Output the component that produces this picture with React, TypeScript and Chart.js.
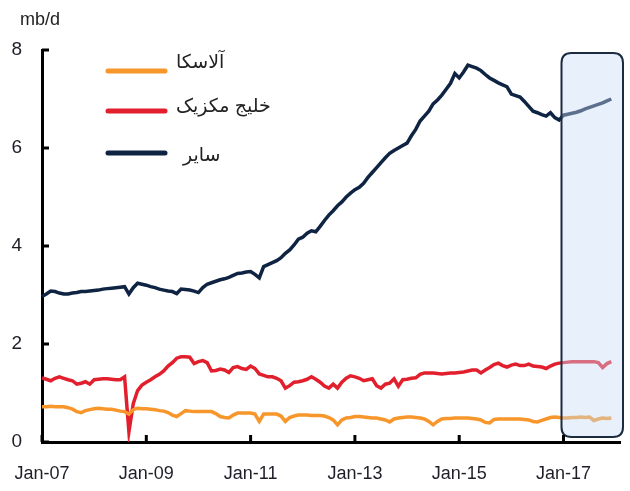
import React, { useEffect, useRef } from "react";
import { Chart, registerables } from "chart.js";

Chart.register(...registerables);

// Monthly data, Jan 2007 – Dec 2017 (mb/d)
const alaska2007 = [0.72, 0.72, 0.73, 0.72, 0.72, 0.72, 0.70, 0.67, 0.62, 0.60, 0.64, 0.66];
const alaska2008 = [0.68, 0.69, 0.68, 0.67, 0.67, 0.65, 0.63, 0.62, 0.57, 0.66, 0.69, 0.68];
const alaska2009 = [0.68, 0.67, 0.66, 0.64, 0.63, 0.60, 0.55, 0.52, 0.58, 0.64, 0.63, 0.62];
const alaska2010 = [0.62, 0.62, 0.62, 0.62, 0.58, 0.52, 0.50, 0.49, 0.55, 0.59, 0.59, 0.59];
const alaska2011 = [0.59, 0.57, 0.42, 0.57, 0.57, 0.57, 0.57, 0.53, 0.42, 0.50, 0.53, 0.55];
const alaska2012 = [0.55, 0.55, 0.54, 0.54, 0.54, 0.53, 0.50, 0.45, 0.35, 0.45, 0.49, 0.50];
const alaska2013 = [0.52, 0.52, 0.51, 0.50, 0.49, 0.49, 0.47, 0.45, 0.41, 0.47, 0.49, 0.50];
const alaska2014 = [0.51, 0.51, 0.50, 0.49, 0.47, 0.42, 0.35, 0.42, 0.47, 0.48, 0.48, 0.49];
const alaska2015 = [0.49, 0.49, 0.49, 0.48, 0.47, 0.45, 0.40, 0.39, 0.46, 0.47, 0.47, 0.47];
const alaska2016 = [0.47, 0.47, 0.47, 0.46, 0.45, 0.42, 0.41, 0.44, 0.47, 0.50, 0.51, 0.50];
const alaska2017 = [0.49, 0.49, 0.50, 0.50, 0.51, 0.50, 0.51, 0.44, 0.47, 0.49, 0.48, 0.49];

const gulf2007 = [1.31, 1.28, 1.25, 1.30, 1.33, 1.30, 1.27, 1.25, 1.18, 1.20, 1.23, 1.18];
const gulf2008 = [1.27, 1.28, 1.29, 1.29, 1.28, 1.27, 1.27, 1.33, 0.21, 0.78, 1.05, 1.16];
const gulf2009 = [1.22, 1.27, 1.33, 1.38, 1.45, 1.55, 1.62, 1.71, 1.74, 1.74, 1.73, 1.60];
const gulf2010 = [1.64, 1.66, 1.62, 1.45, 1.46, 1.49, 1.47, 1.42, 1.52, 1.54, 1.50, 1.48];
const gulf2011 = [1.55, 1.50, 1.39, 1.36, 1.33, 1.33, 1.30, 1.25, 1.10, 1.15, 1.22, 1.23];
const gulf2012 = [1.25, 1.28, 1.33, 1.28, 1.22, 1.14, 1.10, 1.18, 1.10, 1.22, 1.30, 1.35];
const gulf2013 = [1.33, 1.30, 1.25, 1.27, 1.29, 1.15, 1.10, 1.18, 1.20, 1.29, 1.14, 1.27];
const gulf2014 = [1.28, 1.30, 1.31, 1.38, 1.41, 1.41, 1.41, 1.40, 1.39, 1.40, 1.41, 1.41];
const gulf2015 = [1.42, 1.43, 1.45, 1.47, 1.47, 1.41, 1.47, 1.52, 1.58, 1.61, 1.56, 1.53];
const gulf2016 = [1.57, 1.59, 1.56, 1.56, 1.59, 1.55, 1.54, 1.53, 1.50, 1.55, 1.59, 1.61];
const gulf2017 = [1.62, 1.63, 1.64, 1.64, 1.64, 1.64, 1.64, 1.64, 1.62, 1.52, 1.60, 1.64];

const other2007 = [2.97, 3.02, 3.08, 3.07, 3.04, 3.02, 3.02, 3.04, 3.05, 3.07, 3.07, 3.08];
const other2008 = [3.09, 3.10, 3.12, 3.13, 3.14, 3.15, 3.16, 3.17, 3.02, 3.15, 3.24, 3.22];
const other2009 = [3.20, 3.17, 3.15, 3.12, 3.10, 3.08, 3.07, 3.03, 3.12, 3.11, 3.10, 3.08];
const other2010 = [3.05, 3.15, 3.22, 3.25, 3.28, 3.31, 3.33, 3.36, 3.40, 3.44, 3.45, 3.47];
const other2011 = [3.48, 3.42, 3.35, 3.58, 3.62, 3.66, 3.70, 3.76, 3.85, 3.92, 4.02, 4.14];
const other2012 = [4.18, 4.26, 4.31, 4.29, 4.40, 4.52, 4.63, 4.72, 4.82, 4.90, 5.00, 5.08];
const other2013 = [5.15, 5.20, 5.28, 5.40, 5.50, 5.60, 5.70, 5.80, 5.89, 5.95, 6.00, 6.05];
const other2014 = [6.10, 6.25, 6.38, 6.55, 6.65, 6.75, 6.90, 6.98, 7.08, 7.20, 7.32, 7.52];
const other2015 = [7.43, 7.55, 7.69, 7.66, 7.63, 7.58, 7.50, 7.43, 7.38, 7.33, 7.29, 7.25];
const other2016 = [7.10, 7.07, 7.04, 6.95, 6.85, 6.75, 6.72, 6.68, 6.65, 6.72, 6.62, 6.57];
const other2017 = [6.67, 6.69, 6.71, 6.73, 6.76, 6.80, 6.83, 6.86, 6.89, 6.92, 6.96, 7.00];

const alaska = [
  ...alaska2007, ...alaska2008, ...alaska2009, ...alaska2010, ...alaska2011, ...alaska2012,
  ...alaska2013, ...alaska2014, ...alaska2015, ...alaska2016, ...alaska2017,
];
const gulf = [
  ...gulf2007, ...gulf2008, ...gulf2009, ...gulf2010, ...gulf2011, ...gulf2012,
  ...gulf2013, ...gulf2014, ...gulf2015, ...gulf2016, ...gulf2017,
];
const other = [
  ...other2007, ...other2008, ...other2009, ...other2010, ...other2011, ...other2012,
  ...other2013, ...other2014, ...other2015, ...other2016, ...other2017,
];

const monthNames = ["Jan", "Feb", "Mar", "Apr", "May", "Jun", "Jul", "Aug", "Sep", "Oct", "Nov", "Dec"];
const years = ["07", "08", "09", "10", "11", "12", "13", "14", "15", "16", "17", "18"];
// axis runs Jan-07 .. Feb-18
const categories: string[] = [];
years.forEach((y) => monthNames.forEach((m) => categories.push(`${m}-${y}`)));
categories.splice(134);

const xTickLabels = ["Jan-07", "Jan-09", "Jan-11", "Jan-13", "Jan-15", "Jan-17"];
const yTickValues = [0, 2, 4, 6, 8];
const highlightStart = "Jan-17";

const seriesNames = ["آلاسکا", "خلیج مکزیک", "سایر"];
const seriesColors = ["#F7962B", "#E21F2D", "#0E2442"];

const FONT = "'Liberation Sans', Arial, 'DejaVu Sans', sans-serif";
const TEXT_COLOR = "#1E1E28";

const decorPlugin = {
  id: "decor",
  afterDatasetsDraw(chart: any) {
    const { ctx, scales } = chart;
    const x = scales.x;
    const y = scales.y;
    // highlight box over the latest period
    const left = x.getPixelForValue(categories.indexOf(highlightStart)) - 2;
    const right = x.right + 3;
    const top = y.getPixelForValue(8) + 3;
    const bottom = y.getPixelForValue(0) - 5;
    const r = 10;
    ctx.save();
    ctx.beginPath();
    ctx.moveTo(left + r, top);
    ctx.lineTo(right - r, top);
    ctx.quadraticCurveTo(right, top, right, top + r);
    ctx.lineTo(right, bottom - r);
    ctx.quadraticCurveTo(right, bottom, right - r, bottom);
    ctx.lineTo(left + r, bottom);
    ctx.quadraticCurveTo(left, bottom, left, bottom - r);
    ctx.lineTo(left, top + r);
    ctx.quadraticCurveTo(left, top, left + r, top);
    ctx.closePath();
    ctx.fillStyle = "rgba(200,220,245,0.42)";
    ctx.fill();
    ctx.lineWidth = 2;
    ctx.strokeStyle = "#1C2B40";
    ctx.stroke();
    ctx.restore();
  },
  afterDraw(chart: any) {
    const { ctx, scales } = chart;
    const x = scales.x;
    const y = scales.y;
    ctx.save();
    // inward tick marks
    ctx.strokeStyle = "#000";
    ctx.lineWidth = 3;
    yTickValues.forEach((v) => {
      const py = y.getPixelForValue(v);
      ctx.beginPath();
      ctx.moveTo(x.left, py);
      ctx.lineTo(x.left + 7, py);
      ctx.stroke();
    });
    xTickLabels.forEach((lab) => {
      const px = x.getPixelForValue(categories.indexOf(lab));
      ctx.beginPath();
      ctx.moveTo(px, y.bottom);
      ctx.lineTo(px, y.bottom - 7);
      ctx.stroke();
    });
    // x tick labels
    ctx.fillStyle = TEXT_COLOR;
    ctx.font = `18px ${FONT}`;
    ctx.textAlign = "center";
    ctx.textBaseline = "middle";
    xTickLabels.forEach((lab) => {
      const px = x.getPixelForValue(categories.indexOf(lab));
      ctx.fillText(lab, px, y.bottom + 32);
    });
    // unit label
    ctx.fillStyle = "#222";
    ctx.textAlign = "left";
    ctx.fillText("mb/d", 20, 20);
    // legend
    const rows = [71, 111, 153];
    const textY = [63, 107, 156];
    const textX = [176, 176, 183];
    seriesNames.forEach((name, i) => {
      ctx.strokeStyle = seriesColors[i];
      ctx.lineWidth = 5;
      ctx.lineCap = "round";
      ctx.beginPath();
      ctx.moveTo(108, rows[i]);
      ctx.lineTo(165, rows[i]);
      ctx.stroke();
      ctx.fillStyle = "#222";
      ctx.font = `19px ${FONT}`;
      ctx.textAlign = "left";
      ctx.fillText(name, textX[i], textY[i]);
    });
    ctx.restore();
  },
};

export default function App() {
  const ref = useRef<HTMLCanvasElement>(null);
  useEffect(() => {
    if (!ref.current) return;
    const chart = new Chart(ref.current, {
      type: "line",
      data: {
        labels: categories,
        datasets: [
          { label: seriesNames[0], data: alaska, borderColor: seriesColors[0], borderWidth: 3.5, pointRadius: 0, tension: 0 },
          { label: seriesNames[1], data: gulf, borderColor: seriesColors[1], borderWidth: 3.5, pointRadius: 0, tension: 0 },
          { label: seriesNames[2], data: other, borderColor: seriesColors[2], borderWidth: 3.5, pointRadius: 0, tension: 0 },
        ],
      },
      options: {
        animation: false,
        responsive: true,
        maintainAspectRatio: false,
        layout: { padding: { top: 50, right: 10, left: 0, bottom: 0 } },
        plugins: { legend: { display: false }, tooltip: { enabled: false } },
        scales: {
          x: {
            type: "category",
            offset: false,
            grid: { display: false, drawTicks: false },
            border: { display: true, color: "#000", width: 3 },
            afterFit: (s: any) => { s.height = 49; },
            ticks: { display: false },
          },
          y: {
            min: 0,
            max: 8,
            grid: { display: false, drawTicks: false },
            border: { display: true, color: "#000", width: 3 },
            afterFit: (s: any) => { s.width = 42; },
            ticks: {
              stepSize: 2,
              padding: 20,
              color: TEXT_COLOR,
              font: { family: FONT, size: 19 },
            },
          },
        },
      },
      plugins: [decorPlugin],
    });
    return () => chart.destroy();
  }, []);
  return (
    <div style={{ position: "absolute", left: 0, top: 0, width: 630, height: 491, background: "#fff" }}>
      <canvas ref={ref} />
    </div>
  );
}
